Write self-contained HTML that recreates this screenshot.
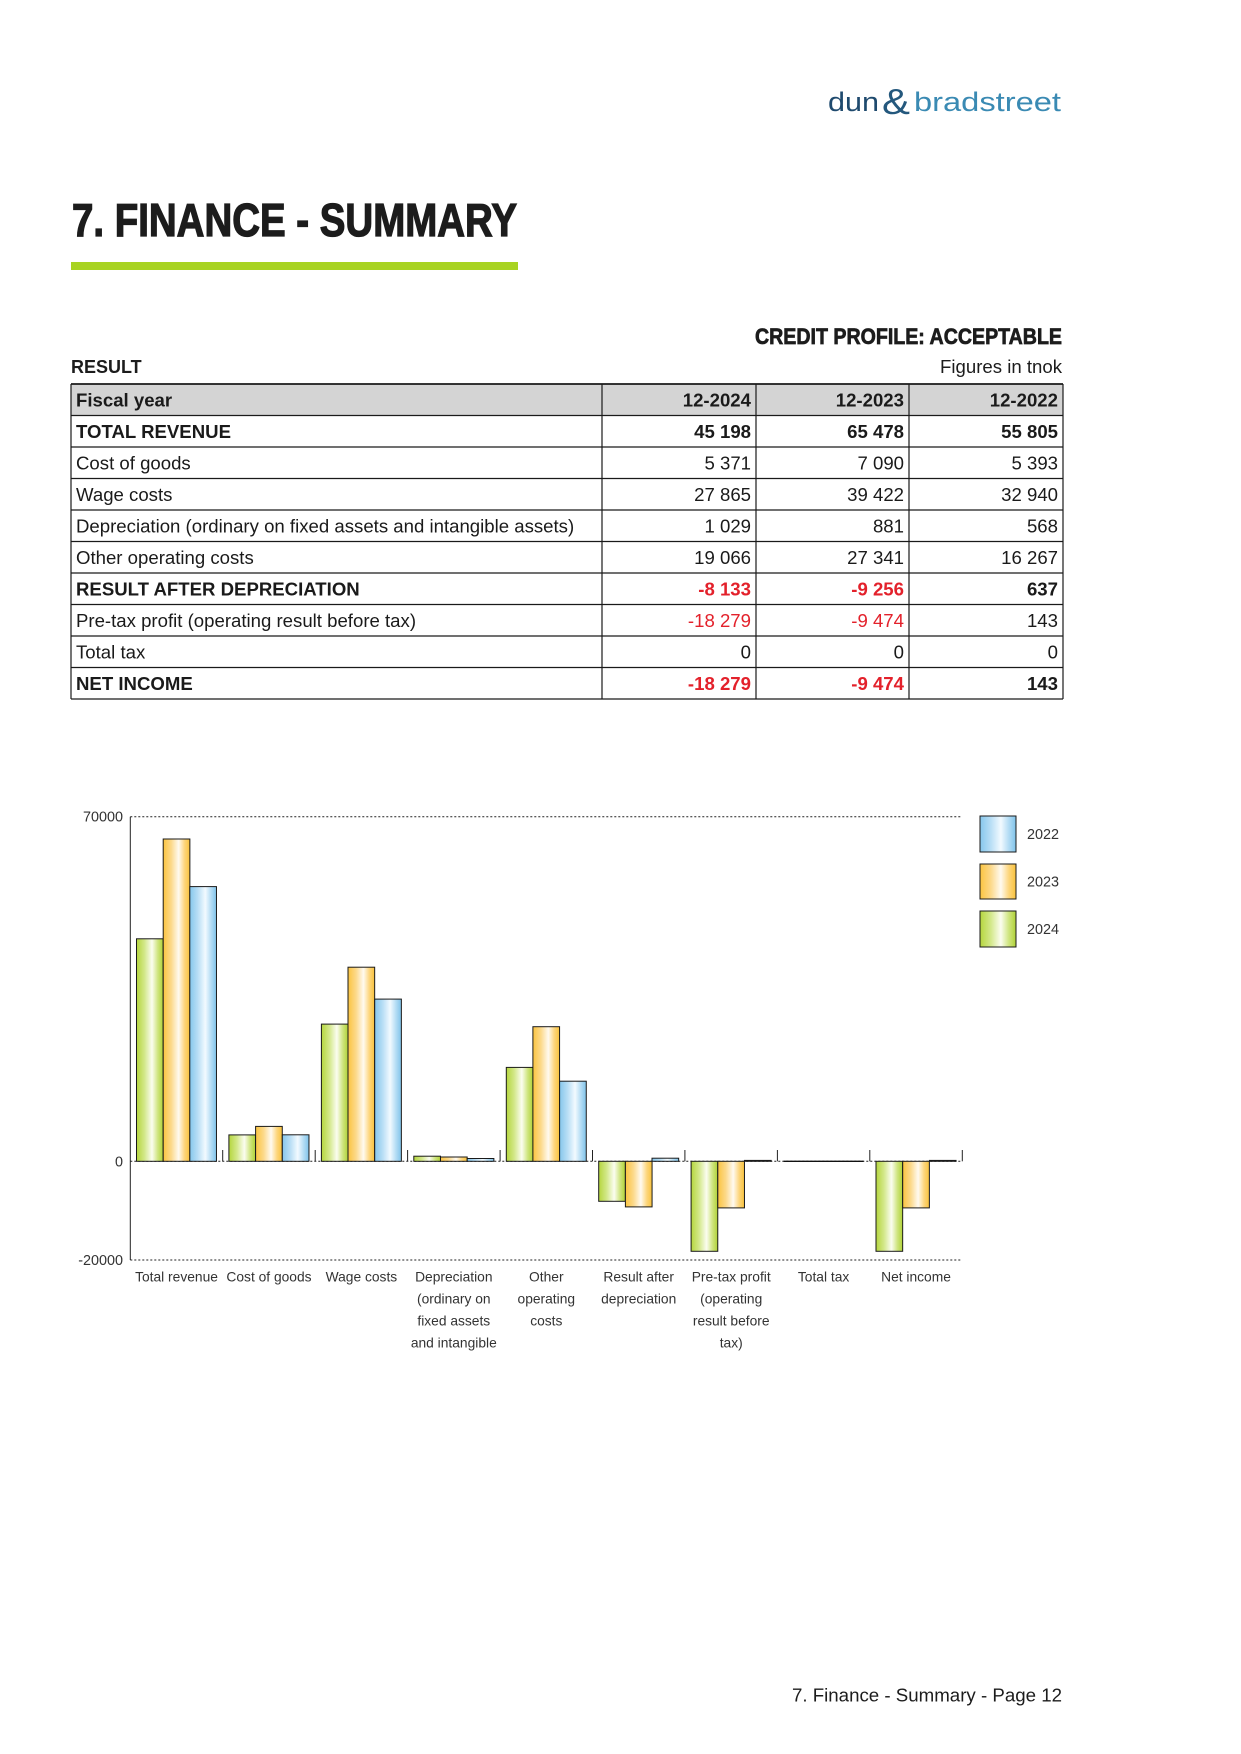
<!DOCTYPE html>
<html>
<head>
<meta charset="utf-8">
<style>
  html,body{margin:0;padding:0;background:#fff;}
  svg{display:block;}
  text{font-family:"Liberation Sans", Arial, sans-serif;}
</style>
</head>
<body>
<svg width="1241" height="1754" viewBox="0 0 1241 1754" xmlns="http://www.w3.org/2000/svg">
  <defs>
    <linearGradient id="gG" x1="0" y1="0" x2="1" y2="0">
      <stop offset="0" stop-color="#b5d63d"/>
      <stop offset="0.3" stop-color="#d3e88a"/>
      <stop offset="0.58" stop-color="#fbfdf0"/>
      <stop offset="0.8" stop-color="#cfe57f"/>
      <stop offset="1" stop-color="#b0d236"/>
    </linearGradient>
    <linearGradient id="gO" x1="0" y1="0" x2="1" y2="0">
      <stop offset="0" stop-color="#fbc440"/>
      <stop offset="0.3" stop-color="#fcd98a"/>
      <stop offset="0.58" stop-color="#fffaf0"/>
      <stop offset="0.8" stop-color="#fdd67d"/>
      <stop offset="1" stop-color="#f9c23c"/>
    </linearGradient>
    <linearGradient id="gB" x1="0" y1="0" x2="1" y2="0">
      <stop offset="0" stop-color="#86c7ec"/>
      <stop offset="0.3" stop-color="#b8def5"/>
      <stop offset="0.58" stop-color="#f2faff"/>
      <stop offset="0.8" stop-color="#b3dcf4"/>
      <stop offset="1" stop-color="#7fc3ea"/>
    </linearGradient>
  </defs>

  <!-- Logo -->
  <text x="828" y="111" font-size="27" fill="#1f4a6e" textLength="51" lengthAdjust="spacingAndGlyphs">dun</text>
  <text x="882" y="114" font-size="36" fill="#24587d" textLength="28" lengthAdjust="spacingAndGlyphs">&amp;</text>
  <text x="914" y="111" font-size="27" fill="#3a8ab3" textLength="147" lengthAdjust="spacingAndGlyphs">bradstreet</text>

  <!-- Title -->
  <text x="72" y="236" font-size="46" font-weight="bold" fill="#1c1c1c" stroke="#1c1c1c" stroke-width="1.3" textLength="445" lengthAdjust="spacingAndGlyphs">7. FINANCE - SUMMARY</text>
  <rect x="71" y="262" width="447" height="8" fill="#a8d322"/>

  <!-- Credit profile -->
  <text x="1062" y="344" font-size="22" font-weight="bold" fill="#1c1c1c" stroke="#1c1c1c" stroke-width="0.7" text-anchor="end" textLength="307" lengthAdjust="spacingAndGlyphs">CREDIT PROFILE: ACCEPTABLE</text>
  <text x="71" y="373" font-size="18" font-weight="bold" fill="#1c1c1c">RESULT</text>
  <text x="1062" y="373" font-size="18.6" fill="#1c1c1c" text-anchor="end">Figures in tnok</text>

  <!-- Table -->
  <rect x="71" y="384" width="992" height="31.5" fill="#d4d4d4"/>
  <g stroke="#1a1a1a" stroke-width="1.2" fill="none">
    <line x1="71" y1="384" x2="1063" y2="384" stroke-width="1.8"/>
    <line x1="71" y1="415.5" x2="1063" y2="415.5"/>
    <line x1="71" y1="447" x2="1063" y2="447"/>
    <line x1="71" y1="478.5" x2="1063" y2="478.5"/>
    <line x1="71" y1="510" x2="1063" y2="510"/>
    <line x1="71" y1="541.5" x2="1063" y2="541.5"/>
    <line x1="71" y1="573" x2="1063" y2="573"/>
    <line x1="71" y1="604.5" x2="1063" y2="604.5"/>
    <line x1="71" y1="636" x2="1063" y2="636"/>
    <line x1="71" y1="667.5" x2="1063" y2="667.5"/>
    <line x1="71" y1="699" x2="1063" y2="699"/>
    <line x1="71" y1="384" x2="71" y2="699"/>
    <line x1="602" y1="384" x2="602" y2="699"/>
    <line x1="756" y1="384" x2="756" y2="699"/>
    <line x1="909" y1="384" x2="909" y2="699"/>
    <line x1="1063" y1="384" x2="1063" y2="699"/>
  </g>
  <g font-size="18.6" fill="#1a1a1a">
    <g font-weight="bold">
      <text x="76" y="406.5">Fiscal year</text>
      <text x="751" y="406.5" text-anchor="end">12-2024</text>
      <text x="904" y="406.5" text-anchor="end">12-2023</text>
      <text x="1058" y="406.5" text-anchor="end">12-2022</text>

      <text x="76" y="438">TOTAL REVENUE</text>
      <text x="751" y="438" text-anchor="end">45 198</text>
      <text x="904" y="438" text-anchor="end">65 478</text>
      <text x="1058" y="438" text-anchor="end">55 805</text>
    </g>

    <text x="76" y="469.5">Cost of goods</text>
    <text x="751" y="469.5" text-anchor="end">5 371</text>
    <text x="904" y="469.5" text-anchor="end">7 090</text>
    <text x="1058" y="469.5" text-anchor="end">5 393</text>

    <text x="76" y="501">Wage costs</text>
    <text x="751" y="501" text-anchor="end">27 865</text>
    <text x="904" y="501" text-anchor="end">39 422</text>
    <text x="1058" y="501" text-anchor="end">32 940</text>

    <text x="76" y="532.5">Depreciation (ordinary on fixed assets and intangible assets)</text>
    <text x="751" y="532.5" text-anchor="end">1 029</text>
    <text x="904" y="532.5" text-anchor="end">881</text>
    <text x="1058" y="532.5" text-anchor="end">568</text>

    <text x="76" y="564">Other operating costs</text>
    <text x="751" y="564" text-anchor="end">19 066</text>
    <text x="904" y="564" text-anchor="end">27 341</text>
    <text x="1058" y="564" text-anchor="end">16 267</text>

    <g font-weight="bold">
      <text x="76" y="595.5">RESULT AFTER DEPRECIATION</text>
      <text x="751" y="595.5" text-anchor="end" fill="#e3212b">-8 133</text>
      <text x="904" y="595.5" text-anchor="end" fill="#e3212b">-9 256</text>
      <text x="1058" y="595.5" text-anchor="end">637</text>
    </g>

    <text x="76" y="627">Pre-tax profit (operating result before tax)</text>
    <text x="751" y="627" text-anchor="end" fill="#e3212b">-18 279</text>
    <text x="904" y="627" text-anchor="end" fill="#e3212b">-9 474</text>
    <text x="1058" y="627" text-anchor="end">143</text>

    <text x="76" y="658.5">Total tax</text>
    <text x="751" y="658.5" text-anchor="end">0</text>
    <text x="904" y="658.5" text-anchor="end">0</text>
    <text x="1058" y="658.5" text-anchor="end">0</text>

    <g font-weight="bold">
      <text x="76" y="690">NET INCOME</text>
      <text x="751" y="690" text-anchor="end" fill="#e3212b">-18 279</text>
      <text x="904" y="690" text-anchor="end" fill="#e3212b">-9 474</text>
      <text x="1058" y="690" text-anchor="end">143</text>
    </g>
  </g>

  <!-- Chart -->
  <g stroke="#222" stroke-width="1" fill="none">
    <line x1="130.3" y1="816.7" x2="962" y2="816.7" stroke-dasharray="2,2"/>
    <line x1="130.3" y1="1260" x2="962" y2="1260" stroke-dasharray="2,2"/>
    <line x1="130.3" y1="1161.3" x2="962.3" y2="1161.3" stroke-dasharray="2,2"/>
    <line x1="130.3" y1="816.7" x2="130.3" y2="1260"/>
    <line x1="222.7" y1="1150" x2="222.7" y2="1161.3"/>
    <line x1="315.2" y1="1150" x2="315.2" y2="1161.3"/>
    <line x1="407.6" y1="1150" x2="407.6" y2="1161.3"/>
    <line x1="500.1" y1="1150" x2="500.1" y2="1161.3"/>
    <line x1="592.5" y1="1150" x2="592.5" y2="1161.3"/>
    <line x1="684.9" y1="1150" x2="684.9" y2="1161.3"/>
    <line x1="777.4" y1="1150" x2="777.4" y2="1161.3"/>
    <line x1="869.8" y1="1150" x2="869.8" y2="1161.3"/>
    <line x1="962.3" y1="1150" x2="962.3" y2="1161.3"/>
  </g>

  <g font-size="14.4" fill="#333" text-anchor="end">
    <text x="123" y="821.5">70000</text>
    <text x="123" y="1166.3">0</text>
    <text x="123" y="1265">-20000</text>
  </g>

  <g stroke="#1a1a1a" stroke-width="1">
    <rect x="136.5" y="938.8" width="26.67" height="222.5" fill="url(#gG)"/>
    <rect x="163.2" y="839.0" width="26.67" height="322.3" fill="url(#gO)"/>
    <rect x="189.8" y="886.6" width="26.67" height="274.7" fill="url(#gB)"/>
    <rect x="228.9" y="1134.9" width="26.67" height="26.4" fill="url(#gG)"/>
    <rect x="255.6" y="1126.4" width="26.67" height="34.9" fill="url(#gO)"/>
    <rect x="282.3" y="1134.8" width="26.67" height="26.5" fill="url(#gB)"/>
    <rect x="321.4" y="1024.1" width="26.67" height="137.2" fill="url(#gG)"/>
    <rect x="348.0" y="967.2" width="26.67" height="194.1" fill="url(#gO)"/>
    <rect x="374.7" y="999.1" width="26.67" height="162.2" fill="url(#gB)"/>
    <rect x="413.8" y="1156.2" width="26.67" height="5.1" fill="url(#gG)"/>
    <rect x="440.5" y="1157.0" width="26.67" height="4.3" fill="url(#gO)"/>
    <rect x="467.2" y="1158.5" width="26.67" height="2.8" fill="url(#gB)"/>
    <rect x="506.3" y="1067.4" width="26.67" height="93.9" fill="url(#gG)"/>
    <rect x="532.9" y="1026.7" width="26.67" height="134.6" fill="url(#gO)"/>
    <rect x="559.6" y="1081.2" width="26.67" height="80.1" fill="url(#gB)"/>
    <rect x="598.7" y="1161.3" width="26.67" height="40.0" fill="url(#gG)"/>
    <rect x="625.4" y="1161.3" width="26.67" height="45.6" fill="url(#gO)"/>
    <rect x="652.0" y="1158.2" width="26.67" height="3.1" fill="url(#gB)"/>
    <rect x="691.1" y="1161.3" width="26.67" height="90.0" fill="url(#gG)"/>
    <rect x="717.8" y="1161.3" width="26.67" height="46.6" fill="url(#gO)"/>
    <rect x="744.5" y="1160.4" width="26.67" height="0.9" fill="url(#gB)"/>
    <line x1="783.6" y1="1161.3" x2="863.6" y2="1161.3" stroke-width="1.3" stroke="#111"/>
    <rect x="876.0" y="1161.3" width="26.67" height="90.0" fill="url(#gG)"/>
    <rect x="902.7" y="1161.3" width="26.67" height="46.6" fill="url(#gO)"/>
    <rect x="929.4" y="1160.4" width="26.67" height="0.9" fill="url(#gB)"/>
  </g>

  <g font-size="13.8" fill="#333" text-anchor="middle">
    <text x="176.5" y="1281.5">Total revenue</text>
    <text x="269.0" y="1281.5">Cost of goods</text>
    <text x="361.4" y="1281.5">Wage costs</text>
    <text x="453.8" y="1281.5">Depreciation</text>
    <text x="453.8" y="1303.5">(ordinary on</text>
    <text x="453.8" y="1325.5">fixed assets</text>
    <text x="453.8" y="1347.5">and intangible</text>
    <text x="546.3" y="1281.5">Other</text>
    <text x="546.3" y="1303.5">operating</text>
    <text x="546.3" y="1325.5">costs</text>
    <text x="638.7" y="1281.5">Result after</text>
    <text x="638.7" y="1303.5">depreciation</text>
    <text x="731.2" y="1281.5">Pre-tax profit</text>
    <text x="731.2" y="1303.5">(operating</text>
    <text x="731.2" y="1325.5">result before</text>
    <text x="731.2" y="1347.5">tax)</text>
    <text x="823.6" y="1281.5">Total tax</text>
    <text x="916.0" y="1281.5">Net income</text>
  </g>

  <g stroke="#1a1a1a" stroke-width="1">
    <rect x="980" y="816" width="36" height="36" fill="url(#gB)"/>
    <rect x="980" y="864" width="36" height="35" fill="url(#gO)"/>
    <rect x="980" y="911" width="36" height="36" fill="url(#gG)"/>
  </g>
  <g font-size="14.4" fill="#333">
    <text x="1027" y="839">2022</text>
    <text x="1027" y="886.5">2023</text>
    <text x="1027" y="934">2024</text>
  </g>

  <text x="1062" y="1701.7" font-size="18.7" fill="#1c1c1c" text-anchor="end">7. Finance - Summary - Page 12</text>
</svg>
</body>
</html>
